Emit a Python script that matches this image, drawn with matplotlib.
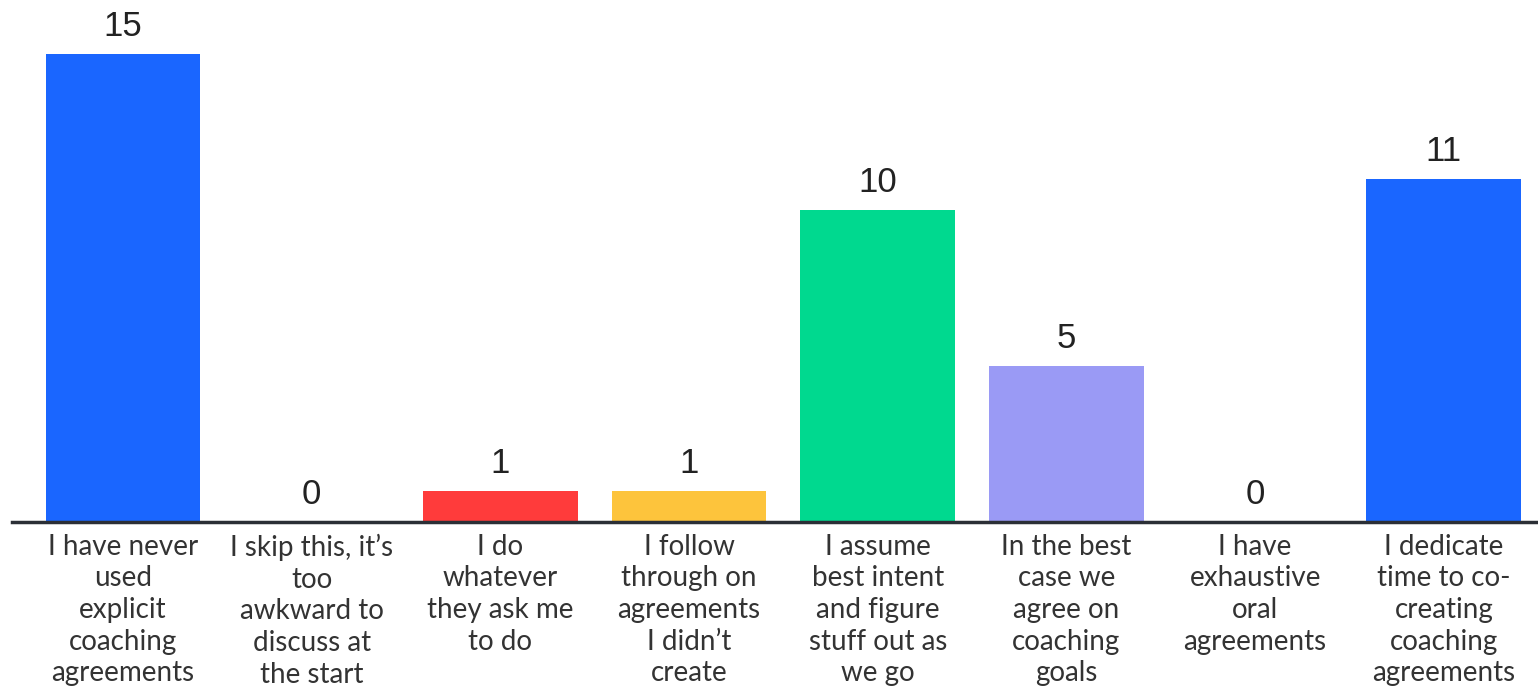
import matplotlib.pyplot as plt

# survey answers and their counts
categories = ["I have never\nused\nexplicit\ncoaching\nagreements",
              "I skip this, it\u2019s\ntoo\nawkward to\ndiscuss at\nthe start",
              "I do\nwhatever\nthey ask me\nto do",
              "I follow\nthrough on\nagreements\nI didn\u2019t\ncreate",
              "I assume\nbest intent\nand figure\nstuff out as\nwe go",
              "In the best\ncase we\nagree on\ncoaching\ngoals",
              "I have\nexhaustive\noral\nagreements",
              "I dedicate\ntime to co-\ncreating\ncoaching\nagreements"]
counts = [15, 0, 1, 1, 10, 5, 0, 11]
colors = ["#1a66ff", "#1a66ff", "#ff3b3b", "#fdc43c", "#00d98f", "#9a9af5", "#1a66ff", "#1a66ff"]

fig = plt.figure(figsize=(15.38, 6.87), dpi=100)
ax = fig.add_axes([12 / 1538, 0.2402, 1 - 12 / 1538, 0.7598])

xs = list(range(len(counts)))
ax.bar(xs, counts, width=0.82, color=colors)

# value labels above the bars
for x, v in zip(xs, counts):
    ax.annotate(str(v), (x, v), xytext=(0, 8), textcoords="offset points",
                ha="center", va="bottom", fontsize=25, color="#222222",
                family="Liberation Sans")

# category labels under the baseline
for x, lab in zip(xs, categories):
    ax.annotate(lab, (x, 0), xytext=(0, -8.5), textcoords="offset points",
                ha="center", va="top", fontsize=20, color="#333333",
                family="Lato", linespacing=1.27, annotation_clip=False)

ax.set_xlim(-0.588, 7.499)
ax.set_ylim(0, 16.73)
for s in ["top", "right", "left"]:
    ax.spines[s].set_visible(False)
ax.spines["bottom"].set_linewidth(2.5)
ax.spines["bottom"].set_color("#2b2f36")
ax.set_xticks([])
ax.set_yticks([])

fig.savefig("out.png", dpi=100)
